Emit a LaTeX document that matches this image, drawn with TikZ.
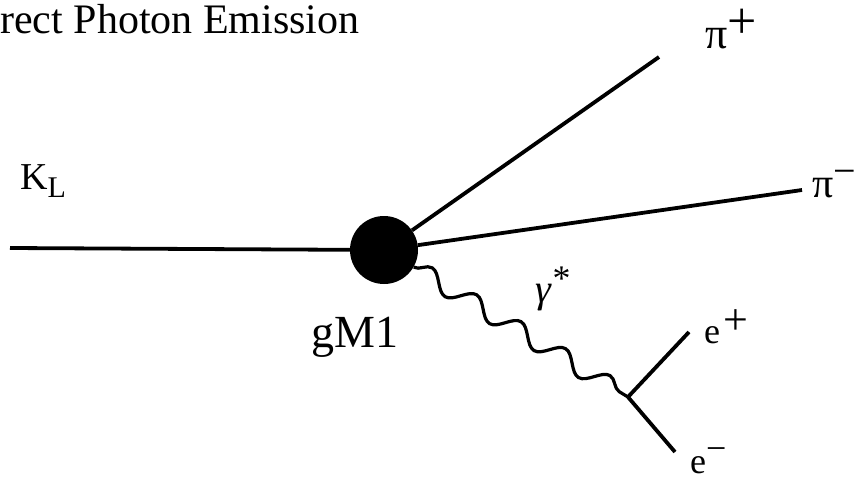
\documentclass[tikz,border=0pt]{standalone}
\usepackage{fontspec}
\setmainfont{Liberation Serif}
\usetikzlibrary{decorations.pathmorphing}
\newcommand\mysup[3]{\raisebox{#2}{\fontsize{#1}{#1}\selectfont #3}}
\begin{document}
\begin{tikzpicture}[x=1pt,y=-1pt,
  line/.style={line width=3.8pt},
  lbl/.style={inner sep=0pt, anchor=base west},
  photon/.style={line width=3.2pt, decorate, decoration={snake, segment length=52pt, amplitude=9pt, post length=4pt}}]
\useasboundingbox (0,0) rectangle (858,479);
\fill[white] (0,0) rectangle (858,479);
% title
\node[lbl, font=\fontsize{42}{48}\selectfont] (title) at (0,33) {rect Photon Emission};
% vertex blob
\node[circle, fill=black, minimum size=68pt, inner sep=0pt] (blob) at (384,250) {};
\coordinate (klstart) at (10,248);
\coordinate (pip) at (659,57);
\coordinate (pim) at (802,190);
\coordinate (vtx) at (628,397);
\coordinate (ep) at (689,332);
\coordinate (em) at (675,452);
\draw[line] (klstart) -- (blob);
\draw[line] (blob) -- (pip);
\draw[line] (blob) -- (pim);
\draw[photon] (blob.-30) -- (vtx);
\draw[line] (vtx) -- (ep);
\draw[line] (vtx) -- (em);
% labels
\node[lbl, font=\fontsize{38}{44}\selectfont] (kl) at (20,189) {K\raisebox{-8pt}{\fontsize{30}{30}\selectfont L}};
\node[lbl, font=\fontsize{44}{50}\selectfont] (pipl) at (705,48) {π\mysup{52}{10pt}{+}};
\node[lbl, font=\fontsize{42}{48}\selectfont] (piml) at (812,197) {π\mysup{40}{13pt}{−}};
\node[lbl, font=\fontsize{40}{46}\selectfont] (gam) at (535,302) {\itshape γ\mysup{36}{12pt}{*}};
\node[lbl, font=\fontsize{46}{52}\selectfont] (gm1) at (311,347) {gM1};
\node[lbl, font=\fontsize{36}{42}\selectfont] (epl) at (704,343) {e\hspace{3pt}\mysup{44}{9pt}{+}};
\node[lbl, font=\fontsize{36}{42}\selectfont] (eml) at (690,473) {e\mysup{36}{13pt}{−}};
\end{tikzpicture}
\end{document}
